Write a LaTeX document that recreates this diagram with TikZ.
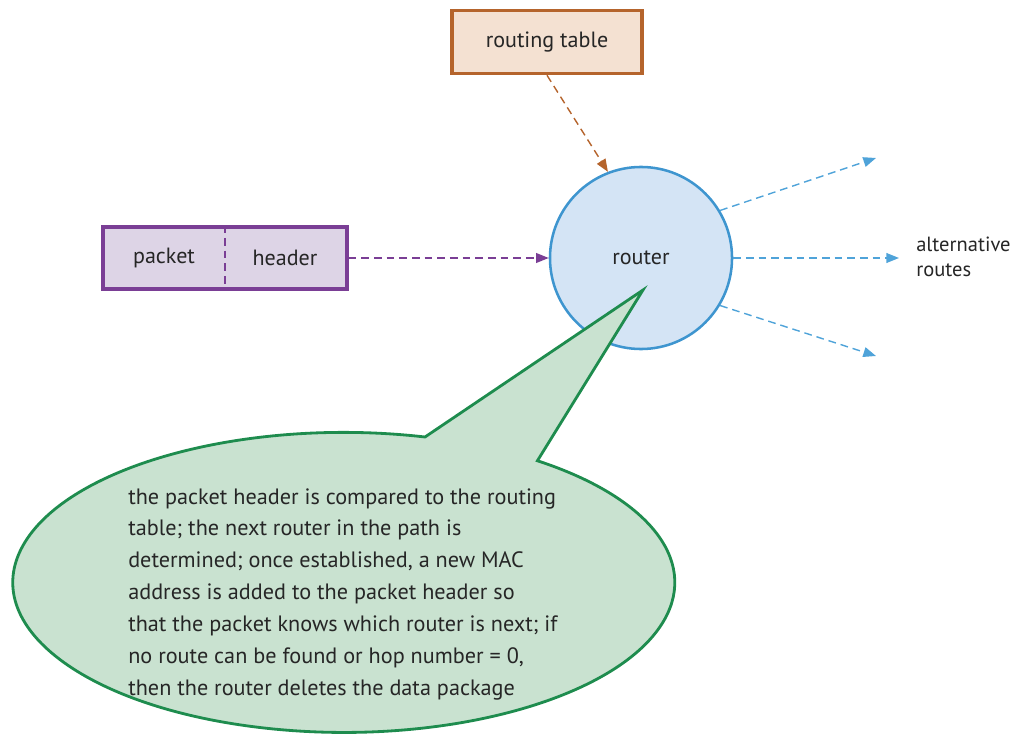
\documentclass[tikz,border=0pt]{standalone}
\usepackage{fontspec}
\setmainfont{PT Sans}
\usepackage{xcolor}
\usetikzlibrary{arrows.meta}

\definecolor{tblFill}{HTML}{F4E1D2}
\definecolor{tblLine}{HTML}{B5642C}
\definecolor{pktFill}{HTML}{DDD4E6}
\definecolor{pktLine}{HTML}{7A3E95}
\definecolor{rtFill}{HTML}{D4E4F5}
\definecolor{rtLine}{HTML}{3E95CF}
\definecolor{arrBlue}{HTML}{4FA3D9}
\definecolor{noteFill}{HTML}{C9E2D0}
\definecolor{noteLine}{HTML}{1E8C4E}

\tikzset{
  lbl/.style={font=\fontsize{15.7}{19}\selectfont, text=black!85},
  tblbox/.style={draw=tblLine, fill=tblFill, line width=2.4pt, minimum width=4.75cm, minimum height=1.58cm},
  pktbox/.style={draw=pktLine, fill=pktFill, line width=2.4pt, minimum width=6.1cm, minimum height=1.55cm},
  rtcirc/.style={circle, draw=rtLine, fill=rtFill, line width=1.8pt, minimum size=4.55cm},
  dasharrow/.style={line width=1pt, dash pattern=on 5.5pt off 3.5pt, -{Triangle[length=9pt,width=7pt]}},
}

\begin{document}
\begin{tikzpicture}[x=0.025cm, y=-0.025cm]

%---------------- 尺寸參數 ----------------%
\def\rtX{641}    % router 圓心 x
\def\rtY{258}    % router 圓心 y

\useasboundingbox (0,0) rectangle (1017,734);

%---------------- 方框與 router ----------------%
\node[tblbox, lbl] (tbl) at (547,42) {routing table};
\node[pktbox] (pkt) at (225,258) {};
\draw[pktLine, line width=1pt, dash pattern=on 5.5pt off 3.5pt] (pkt.north) -- (pkt.south);
\node[lbl] (pktl) at (164,258) {packet};
\node[lbl] (pkth) at (285,258) {header};
\node[rtcirc, lbl] (router) at (\rtX,\rtY) {router};

%---------------- 箭頭 ----------------%
\draw[dasharrow, tblLine] (tbl.south) -- (router.111);
\draw[dasharrow, pktLine] (pkt.east) -- (router.west);

% alternative routes
\coordinate (r1) at (876,158);
\coordinate (r2) at (899,258);
\coordinate (r3) at (876,356);
\foreach \a/\e in {31/r1, 0/r2, -31/r3} {
\draw[dasharrow, arrBlue] (router.\a) -- (\e);
}
\node[lbl, font=\fontsize{14.6}{18}\selectfont, anchor=west, align=left, inner sep=0pt] (alt) at (916,257) {alternative\\routes};

%---------------- 對話框 ----------------%
\coordinate (tip) at (643,290);
\draw[noteLine, fill=noteFill, line width=2pt, line join=miter]
  (425,437) arc[start angle=-75.8, end angle=-414.2, x radius=331, y radius=150]
  -- (tip) -- cycle;
\node[lbl, font=\fontsize{15.8}{22.7}\selectfont, anchor=north west, align=left, inner sep=0pt] (note) at (128,488) {%
the packet header is compared to the routing\\
table; the next router in the path is\\
determined; once established, a new MAC\\
address is added to the packet header so\\
that the packet knows which router is next; if\\
no route can be found or hop number = 0,\\
then the router deletes the data package};

\end{tikzpicture}
\end{document}
